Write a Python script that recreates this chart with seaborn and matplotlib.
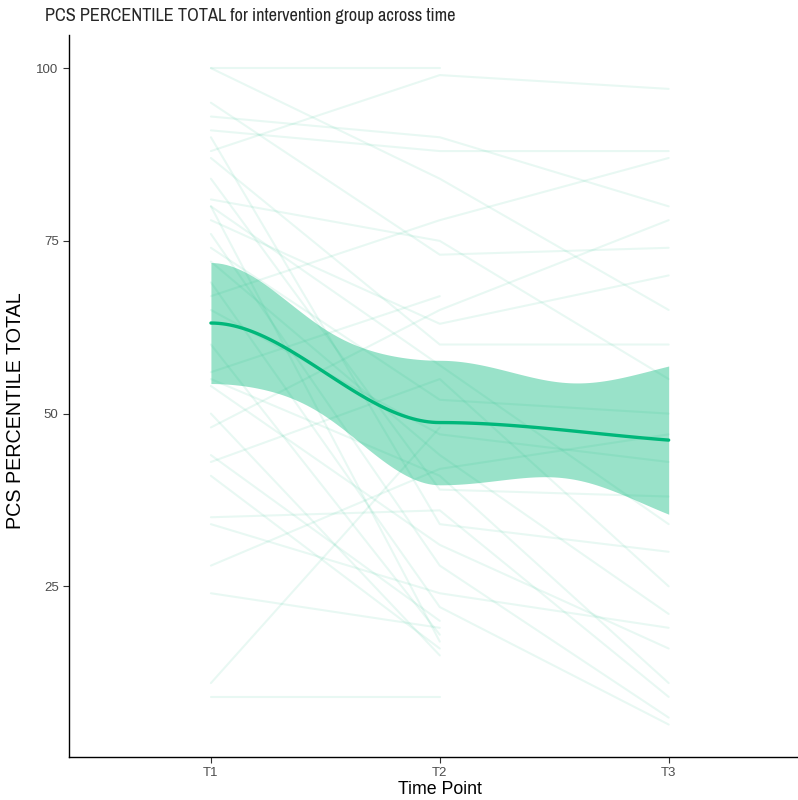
import numpy as np
import pandas as pd
import matplotlib.pyplot as plt
import seaborn as sns
from matplotlib import font_manager

# PCS percentile per subject at each time point (nan = not measured)
time_points = ["T1", "T2", "T3"]
t1_values = [100, 100, 80, 95, 93, 91, 90, 88, 87, 84, 81, 80, 78, 76, 74, 72, 71, 69,
             67, 65, 60, 56, 55, 54, 50, 48, 44, 43, 41, 39, 35, 34, 28, 24, 11, 9]
t2_values = [100, 84, 57, 73, 90, 88, 34, 99, 60, 39, 75, 17, 63, 28, 52, 44, np.nan, 22,
             78, 47, 18, 67, 41, 31, 15, 65, 20, 55, 16, np.nan, 36, 24, 42, 19, 48, 9]
t3_values = [np.nan, 65, 34, 74, 80, 88, 30, 97, 60, 38, 55, np.nan, 70, 6, 50, 21, np.nan, 5,
             87, 43, np.nan, np.nan, 11, 16, np.nan, 78, np.nan, 25, np.nan, np.nan, 9, 19, 47,
             np.nan, np.nan, np.nan]

GREEN = "#00B77A"
t_crit = 1.98

names = sorted({f.name for f in font_manager.fontManager.ttflist})
narrow = [n for n in names if "Narrow" in n or "Condensed" in n]
title_font = narrow[0] if narrow else "Liberation Sans"

sns.set_style("white")
plt.rcParams["font.family"] = ["Liberation Sans", "DejaVu Sans"]

n_sub = len(t1_values)
df = pd.DataFrame({
    "subject": np.tile(np.arange(n_sub), 3),
    "time": np.repeat([1, 2, 3], n_sub),
    "score": np.concatenate([t1_values, t2_values, t3_values]),
}).dropna()

# loess-like smooth: group means at vertices, cubic hermite in between
y = df["score"].to_numpy()
x = df["time"].to_numpy()
L = {k: (x == k) / (x == k).sum() for k in (1, 2, 3)}
D = {1: 0 * L[1], 2: 0 * L[1], 3: L[3] - L[2]}
resid = y - sum(L[k] @ y * (x == k) for k in (1, 2, 3))
sigma = np.sqrt((resid ** 2).sum() / (len(y) - 3))

grid = np.linspace(1, 3, 121)
fit, se = [], []
for g in grid:
    a = 1 if g < 2 else 2
    b = a + 1
    t = g - a
    h00, h01 = 2 * t**3 - 3 * t**2 + 1, -2 * t**3 + 3 * t**2
    h10, h11 = t**3 - 2 * t**2 + t, t**3 - t**2
    row = h00 * L[a] + h01 * L[b] + h10 * D[a] + h11 * D[b]
    fit.append(row @ y)
    se.append(sigma * np.sqrt((row ** 2).sum()))
smooth = pd.DataFrame({"time": grid, "fit": fit, "se": se})
smooth["lo"] = smooth["fit"] - t_crit * smooth["se"]
smooth["hi"] = smooth["fit"] + t_crit * smooth["se"]

fig = plt.figure(figsize=(7.98, 8.0), dpi=100)
ax = fig.add_axes([69 / 798, 43 / 800, 729 / 798, 722 / 800])

sns.lineplot(data=df, x="time", y="score", units="subject", estimator=None,
             color=GREEN, alpha=0.09, linewidth=1.5, ax=ax)
ax.fill_between(smooth["time"], smooth["lo"], smooth["hi"], color=GREEN, alpha=0.4,
                linewidth=0)
sns.lineplot(data=smooth, x="time", y="fit", color=GREEN, linewidth=2.4, ax=ax)

ax.set_xlim(0.38, 3.565)
ax.set_ylim(0.3, 104.8)
ax.set_xticks([1, 2, 3])
ax.set_xticklabels(time_points)
ax.set_yticks([25, 50, 75, 100])
ax.tick_params(axis="both", colors="#333333", labelcolor="#4D4D4D", labelsize=9.5,
               length=4, width=0.8, direction="out", left=True, bottom=True)
for side in ("top", "right"):
    ax.spines[side].set_visible(False)
for side in ("left", "bottom"):
    ax.spines[side].set_color("black")
    ax.spines[side].set_linewidth(1.0)
ax.set_xlabel("Time Point", fontsize=12.8, color="black")
ax.set_ylabel("PCS PERCENTILE TOTAL", fontsize=14.2, color="black")
ax.xaxis.set_label_coords(0.509, -0.033)
ax.yaxis.set_label_coords(-0.061, 0.48)
title_size = 13.2 if narrow else 11.0
fig.text(45 / 798, 1 - 16 / 800, "PCS PERCENTILE TOTAL for intervention group across time",
         fontsize=title_size, va="center", ha="left", family=[title_font, "DejaVu Sans"])

fig.savefig("out.png", dpi=100)
